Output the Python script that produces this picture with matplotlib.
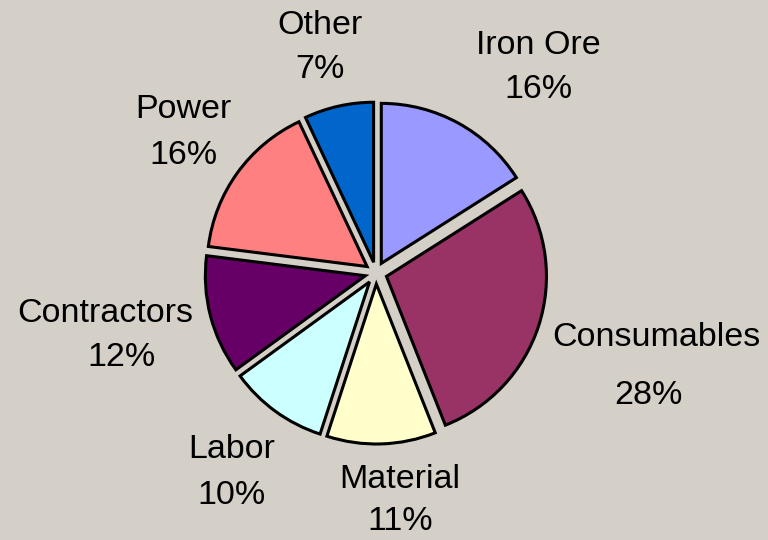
import matplotlib.pyplot as plt

# cost breakdown shares (percent)
categories = ['Iron Ore', 'Consumables', 'Material', 'Labor', 'Contractors', 'Power', 'Other']
shares = [16, 28, 11, 10, 12, 16, 7]
colors = ['#9999FF', '#993366', '#FFFFCC', '#CCFFFF', '#660066', '#FF8080', '#0066CC']

# where each label block sits (pixel coords, y measured from the top)
label_pos = {
    'Iron Ore': [(538, 45), (538, 90)],
    'Consumables': [(656, 337), (648, 395)],
    'Material': [(400, 480), (400, 522)],
    'Labor': [(232, 450), (232, 495)],
    'Contractors': [(105, 313), (122, 358)],
    'Power': [(183, 110), (183, 155)],
    'Other': [(320, 25), (320, 70)],
}

bg = '#D4D0C8'
plt.rcParams['font.family'] = ['Liberation Sans', 'DejaVu Sans']

fig = plt.figure(figsize=(7.68, 5.4), dpi=100, facecolor=bg)
ax = fig.add_axes([0, 0, 1, 1])
ax.set_facecolor(bg)

# explode is in data units here (pixels), not a fraction of the radius
ax.pie(shares, colors=colors, startangle=90, counterclock=False,
       center=(376, 540 - 273), radius=160, explode=[11] * len(shares),
       wedgeprops=dict(edgecolor='black', linewidth=2.2))
ax.set_xlim(0, 768)
ax.set_ylim(0, 540)
ax.set_aspect('equal')
ax.axis('off')

for name, val in zip(categories, shares):
    (x1, y1), (x2, y2) = label_pos[name]
    ax.text(x1, 540 - y1, name, ha='center', va='center', fontsize=24.5)
    ax.text(x2, 540 - y2, f'{val}%', ha='center', va='center', fontsize=24.5)

fig.savefig('out.png', dpi=100, facecolor=bg)
